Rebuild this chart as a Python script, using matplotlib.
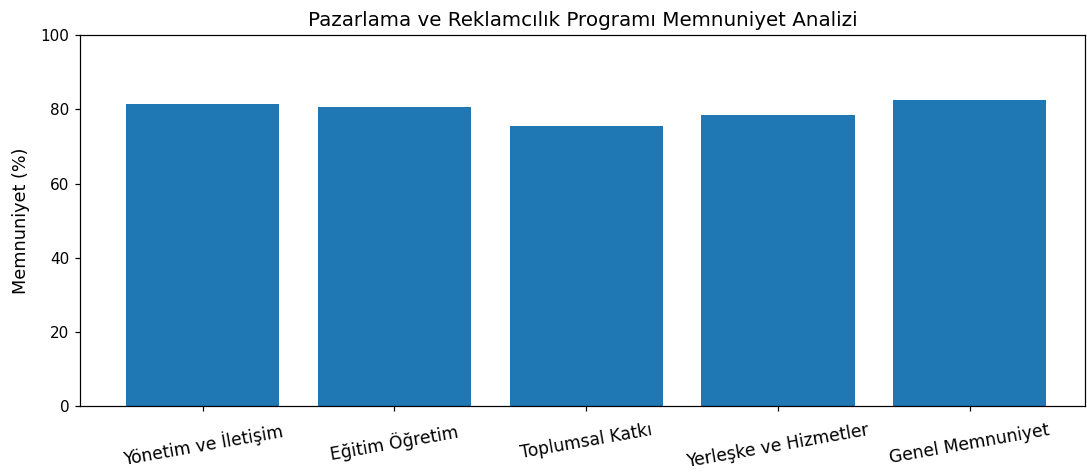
import matplotlib.pyplot as plt

categories = ["Yönetim ve İletişim", "Eğitim Öğretim", "Toplumsal Katkı",
              "Yerleşke ve Hizmetler", "Genel Memnuniyet"]
satisfaction = [81.5, 80.5, 75.4, 78.5, 82.5]

dpi = 110
fig, ax = plt.subplots(figsize=(1087 / dpi, 474 / dpi), dpi=dpi)
fig.subplots_adjust(left=0.0736, right=0.998, top=0.926, bottom=0.143)

ax.bar(categories, satisfaction, color="#1f77b4")
ax.set_xlim(-0.64, 4.6)
ax.set_ylim(0, 100)
ax.set_ylabel("Memnuniyet (%)", fontsize=11.5, labelpad=7)
ax.set_title("Pazarlama ve Reklamcılık Programı Memnuniyet Analizi", fontsize=13)
plt.xticks(rotation=10, fontsize=11.2)
ax.tick_params(axis="x", pad=6.5)

fig.savefig("out.png", dpi=dpi)
plt.close(fig)
